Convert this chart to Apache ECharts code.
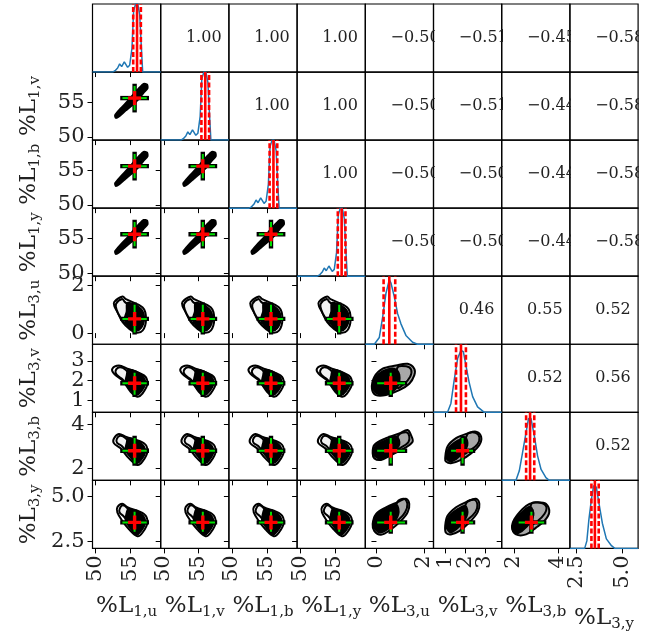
<!DOCTYPE html>
<html><head><meta charset="utf-8">
<script src="https://cdn.jsdelivr.net/npm/echarts@6/dist/echarts.min.js"></script>
<style>html,body{margin:0;padding:0;background:#fff}#c{width:645px;height:635px}</style>
</head><body><div id="c"></div>
<script>
// ---------- parameters ----------
const paramSubs = ['1,u','1,v','1,b','1,y','3,u','3,v','3,b','3,y'];
const axisMin = [49.55,49.55,49.55,49.55,-0.47,0.4,1.45,2.13];
const axisMax = [59.35,59.35,59.35,59.35,2.4,3.85,4.55,5.87];
const tickValues = [[50,55],[50,55],[50,55],[50,55],[0,2],[1,2,3],[2,4],[2.5,5.0]];
const tickLabels = [['50','55'],['50','55'],['50','55'],['50','55'],['0','2'],['1','2','3'],['2','4'],['2.5','5.0']];
// green error cross and red marker
const crossCenter = [55.6,55.6,55.6,55.6,0.6,1.87,2.8,3.56];
const crossLow    = [53.85,53.85,53.85,53.85,0.03,1.29,2.22,3.05];
const crossHigh   = [57.35,57.35,57.35,57.35,1.2,2.4,3.38,4.15];
// red lines on diagonal histograms
const qLow  = [55.4,55.4,55.4,55.4,0.3,1.54,2.56,3.31];
const qMid  = [55.95,55.95,55.95,55.95,0.54,1.79,2.74,3.5];
const qHigh = [56.5,56.5,56.5,56.5,0.79,2.04,2.93,3.71];
// histograms (relative heights)
const histX_L1 = [49.55,52.44,52.8,53.16,53.45,53.74,54.12,54.38,54.6,54.89,55.22,55.46,55.75,56.04,56.33,56.55,56.76,59.35];
const histY_L1 = [0,0,0.02,0.06,0.12,0.08,0.15,0.14,0.07,0.1,0.35,0.9,1.0,1.0,0.85,0.4,0,0];
const histX_L3u = [-0.47,-0.09,0.12,0.26,0.4,0.54,0.61,0.75,0.89,1.03,1.24,1.52,1.73,2.4];
const histY_L3u = [0,0,0.1,0.4,0.75,0.95,0.9,0.7,0.45,0.3,0.13,0.03,0,0];
const histX_L3v = [0.4,1.11,1.28,1.45,1.62,1.79,1.91,2.04,2.21,2.38,2.63,2.97,3.85];
const histY_L3v = [0,0,0.13,0.48,0.79,0.91,0.89,0.69,0.43,0.23,0.08,0,0];
const histX_L3b = [1.45,2.1,2.25,2.4,2.56,2.67,2.78,2.93,3.08,3.24,3.46,3.61,4.55];
const histY_L3b = [0,0,0.14,0.41,0.71,0.91,0.91,0.66,0.36,0.16,0.04,0,0];
const histX_L3y = [2.13,2.94,3.06,3.17,3.31,3.43,3.58,3.72,3.91,4.13,4.41,4.59,5.87];
const histY_L3y = [0,0,0.11,0.42,0.72,0.92,0.9,0.67,0.37,0.14,0.04,0,0];
// correlation texts (upper triangle), row by row
const corrRow0 = ['1.00','1.00','1.00','\u22120.50','\u22120.51','\u22120.45','\u22120.58'];
const corrRow1 = ['1.00','1.00','\u22120.50','\u22120.51','\u22120.44','\u22120.58'];
const corrRow2 = ['1.00','\u22120.50','\u22120.50','\u22120.44','\u22120.58'];
const corrRow3 = ['\u22120.50','\u22120.50','\u22120.44','\u22120.58'];
const corrRow4 = ['0.46','0.55','0.52'];
const corrRow5 = ['0.52','0.56'];
const corrRow6 = ['0.52'];
// contours (data units)
const blob_L1_L1 = [[52.8,53.15],[53.6,54.1],[54.6,55.15],[55.4,56.1],[56.2,57.0],[56.9,57.65],[57.4,57.55],[57.45,57.0],[56.9,56.4],[56.1,55.4],[55.2,54.55],[54.3,53.8],[53.4,53.0],[52.9,52.75]];
const outer_L3u_L1 = [[52.68,1.32],[53.88,1.54],[54.35,1.43],[56.76,1.08],[57.24,0.6],[56.76,0.11],[55.8,0.02],[54.85,0.18],[53.88,0.46],[53.16,0.87],[52.68,1.15]];
const lobe_L3u_L1  = [[52.94,1.24],[53.81,1.44],[54.17,1.32],[54.74,1.15],[54.6,0.74],[54.31,0.4],[53.59,0.65],[53.01,0.99]];
const core_L3u_L1  = [[54.6,1.28],[56.47,1.03],[56.98,0.61],[56.47,0.2],[55.61,0.09],[54.74,0.28],[54.17,0.57],[54.46,0.9]];
const outer_L3v_L1 = [[52.4,2.61],[53.35,2.77],[54.56,2.61],[56.95,2.27],[57.44,1.85],[56.72,1.35],[56.0,1.19],[55.03,1.44],[53.84,2.02],[52.63,2.36]];
const lobe_L3v_L1  = [[52.87,2.51],[53.45,2.68],[54.31,2.56],[54.74,2.31],[54.46,1.9],[53.74,2.11],[53.02,2.31]];
const core_L3v_L1  = [[54.74,2.56],[56.62,2.28],[57.12,1.85],[56.47,1.43],[55.9,1.28],[55.03,1.53],[54.31,1.9],[54.46,2.26]];
const outer_L3b_L1 = [[52.63,3.36],[53.35,3.56],[54.31,3.44],[56.95,3.14],[57.44,2.76],[56.72,2.3],[56.0,2.15],[54.79,2.45],[53.59,2.91],[52.63,3.14]];
const lobe_L3b_L1  = [[53.02,3.32],[53.52,3.48],[54.31,3.37],[54.74,3.16],[54.46,2.82],[53.74,3.02],[53.09,3.16]];
const core_L3b_L1  = [[54.74,3.37],[56.62,3.11],[57.12,2.75],[56.47,2.36],[55.9,2.23],[55.03,2.5],[54.31,2.82],[54.46,3.14]];
const outer_L3y_L1 = [[53.12,4.39],[53.84,4.58],[54.56,4.39],[56.95,4.02],[57.44,3.55],[56.72,2.99],[56.0,2.8],[54.79,3.18],[53.84,3.64],[53.12,4.11]];
const lobe_L3y_L1  = [[53.45,4.3],[53.88,4.5],[54.53,4.35],[54.89,4.1],[54.6,3.68],[54.02,3.9],[53.45,4.1]];
const core_L3y_L1  = [[54.74,4.3],[56.62,3.99],[57.12,3.54],[56.47,3.06],[55.9,2.9],[55.03,3.23],[54.31,3.68],[54.46,4.07]];
const outer_L3v_L3u = [[-0.19,1.6],[-0.09,2.19],[0.26,2.61],[0.82,2.77],[1.31,2.86],[1.59,2.61],[1.59,2.27],[1.38,1.85],[0.96,1.52],[0.4,1.27],[-0.02,1.27]];
const core_L3v_L3u  = [[-0.15,1.7],[-0.05,2.15],[0.29,2.5],[0.75,2.61],[0.96,2.31],[0.88,1.7],[0.46,1.35],[0.03,1.35]];
const inner_L3v_L3u = [[0.88,2.66],[1.25,2.73],[1.46,2.56],[1.42,2.21],[1.17,1.85],[0.88,1.65]];
const outer_L3b_L3u = [[-0.16,2.68],[-0.09,3.06],[0.4,3.37],[0.96,3.59],[1.31,3.74],[1.45,3.52],[1.52,3.21],[1.17,2.91],[0.61,2.6],[0.19,2.38],[-0.09,2.45]];
const core_L3b_L3u  = [[-0.13,2.72],[-0.01,3.04],[0.46,3.31],[0.84,3.45],[0.96,3.08],[0.63,2.68],[0.2,2.45],[-0.05,2.54]];
const inner_L3b_L3u = [[0.92,3.5],[1.25,3.64],[1.38,3.46],[1.34,3.18],[1.04,2.95],[0.79,2.86]];
const outer_L3y_L3u = [[-0.16,3.46],[-0.02,4.02],[0.4,4.39],[0.89,4.67],[1.24,4.86],[1.38,4.58],[1.31,4.11],[1.03,3.64],[0.61,3.17],[0.19,2.88],[-0.09,3.08]];
const core_L3y_L3u  = [[-0.13,3.51],[0.03,4.02],[0.46,4.33],[0.84,4.52],[0.92,4.02],[0.63,3.4],[0.2,3.01],[-0.05,3.18]];
const inner_L3y_L3u = [[0.88,4.69],[1.17,4.86],[1.3,4.58],[1.21,4.13],[0.96,3.74],[0.71,3.57]];
const outer_L3b_L3v = [[0.99,2.45],[1.11,2.99],[1.54,3.37],[2.13,3.59],[2.55,3.67],[2.81,3.44],[2.72,3.06],[2.3,2.68],[1.79,2.38],[1.28,2.23],[1.03,2.31]];
const core_L3b_L3v  = [[1.04,2.5],[1.2,2.95],[1.65,3.27],[2.01,3.41],[2.11,3.05],[1.81,2.63],[1.3,2.31],[1.1,2.4]];
const inner_L3b_L3v = [[2.11,3.55],[2.52,3.62],[2.72,3.41],[2.62,3.09],[2.26,2.82],[1.96,2.68]];
const outer_L3y_L3v = [[0.99,3.36],[1.11,3.92],[1.54,4.39],[2.04,4.67],[2.55,4.86],[2.72,4.58],[2.63,4.11],[2.21,3.55],[1.7,3.08],[1.28,2.9],[1.03,2.99]];
const core_L3y_L3v  = [[1.04,3.46],[1.2,3.91],[1.65,4.3],[2.01,4.47],[2.11,4.02],[1.81,3.46],[1.3,3.01],[1.1,3.18]];
const inner_L3y_L3v = [[2.06,4.63],[2.47,4.8],[2.62,4.52],[2.52,4.13],[2.16,3.74],[1.86,3.57]];
const outer_L3y_L3b = [[1.92,3.27],[2.03,3.74],[2.4,4.3],[2.71,4.58],[3.08,4.67],[3.46,4.58],[3.61,4.11],[3.39,3.64],[3.01,3.27],[2.56,2.9],[2.1,2.9]];
const core_L3y_L3b  = [[1.94,3.34],[2.07,3.74],[2.43,4.19],[2.75,4.41],[2.89,3.96],[2.6,3.34],[2.16,2.95],[1.98,3.06]];
const inner_L3y_L3b = [[2.8,4.58],[3.25,4.63],[3.48,4.41],[3.39,4.02],[3.07,3.62],[2.8,3.46]];

// ---------- lookups built from the arrays ----------
const histX = [histX_L1,histX_L1,histX_L1,histX_L1,histX_L3u,histX_L3v,histX_L3b,histX_L3y];
const histY = [histY_L1,histY_L1,histY_L1,histY_L1,histY_L3u,histY_L3v,histY_L3b,histY_L3y];
const corrRows = [corrRow0,corrRow1,corrRow2,corrRow3,corrRow4,corrRow5,corrRow6];
const L3vsL1 = {
  4:[outer_L3u_L1,lobe_L3u_L1,core_L3u_L1], 5:[outer_L3v_L1,lobe_L3v_L1,core_L3v_L1],
  6:[outer_L3b_L1,lobe_L3b_L1,core_L3b_L1], 7:[outer_L3y_L1,lobe_L3y_L1,core_L3y_L1]};
const L3vsL3 = {
  '5_4':[outer_L3v_L3u,inner_L3v_L3u,core_L3v_L3u], '6_4':[outer_L3b_L3u,inner_L3b_L3u,core_L3b_L3u],
  '7_4':[outer_L3y_L3u,inner_L3y_L3u,core_L3y_L3u], '6_5':[outer_L3b_L3v,inner_L3b_L3v,core_L3b_L3v],
  '7_5':[outer_L3y_L3v,inner_L3y_L3v,core_L3y_L3v], '7_6':[outer_L3y_L3b,inner_L3y_L3b,core_L3y_L3b]};
function contourSet(r, c) {
  if (r <= 3) return [{pts: blob_L1_L1, fill: '#000', smooth: 0.2}];
  if (c <= 3) {
    const s = L3vsL1[r];
    return [{pts: s[0], fill: 'none'}, {pts: s[1], fill: '#f2f2f2'}, {pts: s[2], fill: '#000'}];
  }
  const s = L3vsL3[r + '_' + c];
  return [{pts: s[0], fill: '#a8a8a8'}, {pts: s[1], fill: 'none'}, {pts: s[2], fill: '#000'}];
}

// ---------- layout ----------
const N = 8, X0 = 92.5, Y0 = 4, CW = 68.2, CH = 68.05;
const FONT = 'DejaVu Serif';
const TXT = '#222';
const rich = {
  m: {fontFamily: FONT, fontSize: 23, lineHeight: 26, color: TXT},
  s: {fontFamily: FONT, fontSize: 15, lineHeight: 10, verticalAlign: 'bottom', color: TXT}
};
const nameOf = i => '{m|%L}{s|' + paramSubs[i] + '}';
const tickFmt = i => (v) => { const k = tickValues[i].findIndex(t => Math.abs(t - v) < 1e-9); return k >= 0 ? tickLabels[i][k] : ''; };
// labels are split over two stacked axes so that none of them is auto-hidden
const evenTicks = i => tickValues[i].filter((v, k) => k % 2 === 0);
const oddTicks = i => tickValues[i].filter((v, k) => k % 2 === 1);
const labelStyle = {fontFamily: FONT, fontSize: 21, color: TXT};

const grids = [], xAxes = [], yAxes = [], series = [];
const extraX = [], extraY = [];
for (let r = 0; r < N; r++) {
  for (let c = 0; c < N; c++) {
    const gi = r * N + c;
    grids.push({left: X0 + c * CW, top: Y0 + r * CH, width: CW, height: CH, show: true,
      borderColor: '#000', borderWidth: 1.2, backgroundColor: 'transparent',
      containLabel: false, outerBoundsMode: 'none'});
    const upper = c > r, diag = c === r;
    // x axis
    const xa = {type: 'value', gridIndex: gi, position: 'bottom', splitLine: {show: false}, axisLine: {show: false},
      min: upper ? 0 : axisMin[c], max: upper ? 1 : axisMax[c]};
    if (upper) { xa.axisTick = {show: false}; xa.axisLabel = {show: false}; }
    else {
      xa.axisTick = {show: true, inside: false, length: 5, customValues: tickValues[c], lineStyle: {color: '#000', width: 1}};
      xa.axisLabel = Object.assign({show: r === N - 1, customValues: evenTicks(c), rotate: 90, margin: 7,
        formatter: tickFmt(c)}, labelStyle);
      if (r === N - 1) {
        xa.name = nameOf(c); xa.nameLocation = 'middle'; xa.nameGap = c === 7 ? 57 : 45;
        xa.nameTextStyle = {rich: rich};
        extraX.push({type: 'value', gridIndex: gi, position: 'bottom', offset: 0, min: axisMin[c], max: axisMax[c],
          splitLine: {show: false}, axisLine: {show: false}, axisTick: {show: false},
          axisLabel: Object.assign({show: true, customValues: oddTicks(c), rotate: 90, margin: 7,
            formatter: tickFmt(c)}, labelStyle)});
      }
    }
    xAxes.push(xa);
    // y axis
    const ya = {type: 'value', gridIndex: gi, position: 'left', splitLine: {show: false}, axisLine: {show: false},
      min: (upper || diag) ? 0 : axisMin[r], max: (upper || diag) ? 1 : axisMax[r]};
    if (upper || diag) { ya.axisTick = {show: false}; ya.axisLabel = {show: false}; }
    else {
      ya.axisTick = {show: true, inside: false, length: 5, customValues: tickValues[r], lineStyle: {color: '#000', width: 1}};
      ya.axisLabel = Object.assign({show: c === 0, customValues: evenTicks(r), margin: 8,
        formatter: tickFmt(r)}, labelStyle);
      if (c === 0) {
        ya.name = nameOf(r); ya.nameLocation = 'middle'; ya.nameGap = 50; ya.nameRotate = 90;
        ya.nameTextStyle = {rich: rich};
        extraY.push({type: 'value', gridIndex: gi, position: 'left', offset: 0, min: axisMin[r], max: axisMax[r],
          splitLine: {show: false}, axisLine: {show: false}, axisTick: {show: false},
          axisLabel: Object.assign({show: true, customValues: oddTicks(r), margin: 8,
            formatter: tickFmt(r)}, labelStyle)});
      }
    }
    yAxes.push(ya);

    // series
    if (diag) {
      series.push({type: 'line', xAxisIndex: gi, yAxisIndex: gi, symbol: 'none', silent: true,
        data: histX[c].map((x, k) => [x, histY[c][k]]),
        lineStyle: {color: '#1f77b4', width: 1.5}, z: 2});
      [[qLow[c], 'dashed'], [qHigh[c], 'dashed'], [qMid[c], 'solid']].forEach(([q, t]) => {
        series.push({type: 'line', xAxisIndex: gi, yAxisIndex: gi, symbol: 'none', silent: true,
          data: [[q, 0], [q, 1]],
          lineStyle: {color: '#ff0000', width: 2.6, type: t === 'dashed' ? [5, 2.5] : 'solid'}, z: 3});
      });
    } else if (upper) {
      const txt = corrRows[r][c - r - 1];
      series.push({type: 'custom', xAxisIndex: gi, yAxisIndex: gi, clip: true, silent: true,
        data: [[0.37, 0.5]],
        renderItem: (params, api) => {
          const p = api.coord([api.value(0), api.value(1)]);
          return {type: 'text', x: p[0], y: p[1],
            style: {text: txt, fill: TXT, font: '16px "DejaVu Serif"', align: 'left', verticalAlign: 'middle'}};
        }});
    } else {
      const shapes = contourSet(r, c);
      const cc = c, rr = r;
      series.push({type: 'custom', xAxisIndex: gi, yAxisIndex: gi, clip: true, silent: true,
        data: [[crossCenter[c], crossCenter[r]]],
        renderItem: (params, api) => {
          const ch = [];
          shapes.forEach(s => ch.push({type: 'polygon',
            shape: {points: s.pts.map(p => api.coord(p)), smooth: s.smooth != null ? s.smooth : 0.35},
            style: {fill: s.fill, stroke: '#000', lineWidth: 2}}));
          const cx = api.value(0), cy = api.value(1);
          const pL = api.coord([crossLow[cc], cy]), pR = api.coord([crossHigh[cc], cy]);
          const pB = api.coord([cx, crossLow[rr]]), pT = api.coord([cx, crossHigh[rr]]);
          const pc = api.coord([cx, cy]);
          const seg = (a, b, col, w, cap) => ({type: 'line', shape: {x1: a[0], y1: a[1], x2: b[0], y2: b[1]},
            style: {stroke: col, lineWidth: w, lineCap: cap || 'butt'}});
          ch.push(seg(pL, pR, '#000', 4.4, 'square'), seg(pB, pT, '#000', 4.4, 'square'));
          ch.push(seg(pL, pR, '#00dd00', 2), seg(pB, pT, '#00dd00', 2));
          ch.push(seg([pc[0] - 6.5, pc[1]], [pc[0] + 6.5, pc[1]], '#ff0000', 3.4),
                  seg([pc[0], pc[1] - 7], [pc[0], pc[1] + 7], '#ff0000', 3.4));
          return {type: 'group', children: ch};
        }});
    }
  }
}

const chart = echarts.init(document.getElementById('c'), null, {renderer: 'canvas'});
chart.setOption({animation: false, backgroundColor: '#fff', grid: grids,
  xAxis: xAxes.concat(extraX), yAxis: yAxes.concat(extraY), series: series});
</script>
</body></html>
